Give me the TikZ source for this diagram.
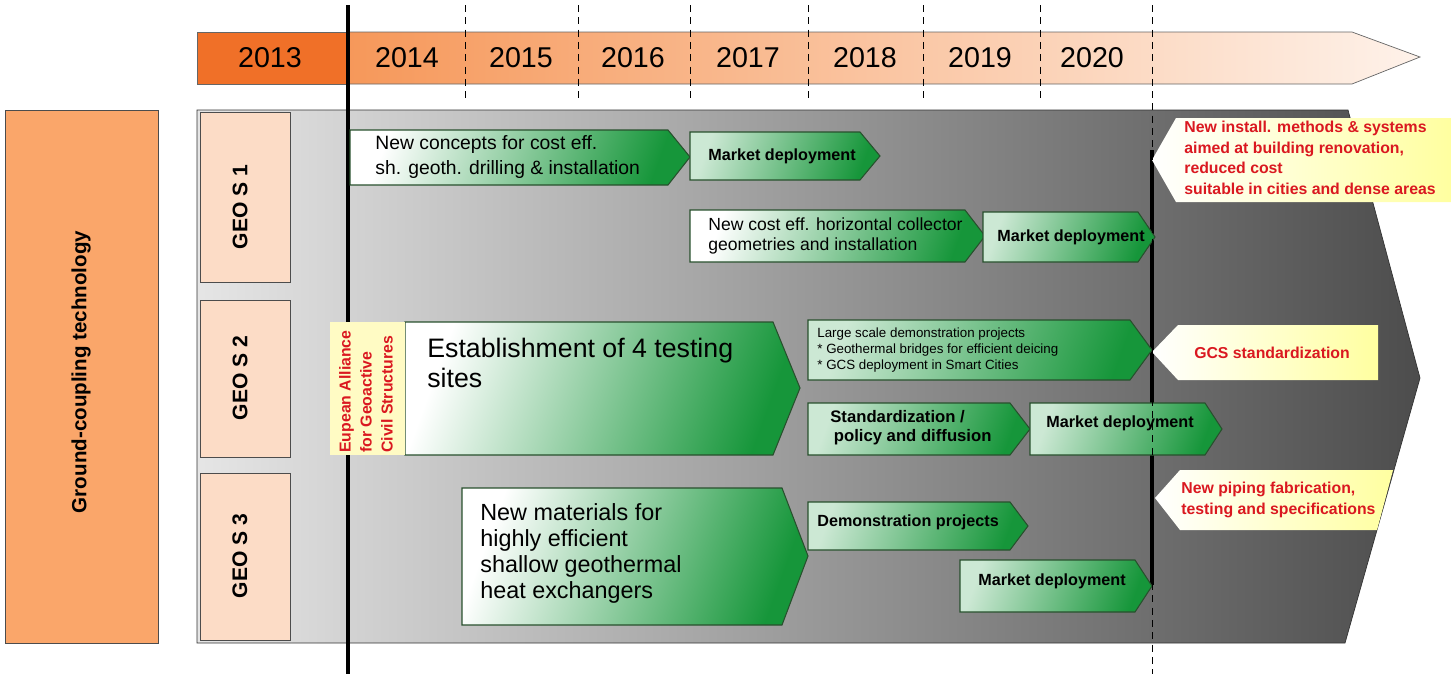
\documentclass[tikz,border=0pt]{standalone}
\usepackage{fontspec}
\setmainfont{Liberation Sans}
\usepackage{xcolor}
\usepackage{tikz}
\usetikzlibrary{calc}
\definecolor{yeardark}{RGB}{240,112,40}
\definecolor{yearmid}{RGB}{246,152,90}
\definecolor{yearlight}{RGB}{254,242,234}
\definecolor{techorange}{RGB}{250,166,106}
\definecolor{geopeach}{RGB}{252,220,198}
\definecolor{chevgreen}{RGB}{22,150,58}
\definecolor{chevline}{RGB}{40,80,45}
\definecolor{alertred}{RGB}{218,24,32}
\definecolor{noteyellow}{RGB}{255,255,160}
\definecolor{allianceyellow}{RGB}{255,251,196}
\tikzset{
  chev/.style = {draw = chevline, line width = .6pt, left color = white, right color = chevgreen, shading angle = 70},
  chevdeploy/.style = {chev, left color = chevgreen!22, right color = chevgreen, shading angle = 70},
  note/.style = {left color = white, right color = noteyellow},
  geobox/.style = {draw = black!70, fill = geopeach},
  yeartxt/.style = {font = \fontsize{16.3}{18}\selectfont},
  geotxt/.style = {rotate = 90, font = \fontsize{12}{14}\selectfont\bfseries},
  chevtxt/.style = {align = left, anchor = west, inner sep = 0pt},
  deploytxt/.style = {chevtxt, font = \fontsize{9.2}{11}\selectfont\bfseries},
  redtxt/.style = {text = alertred, font = \fontsize{9}{11.7}\selectfont\bfseries, align = left, inner sep = 0pt},
  yeardash/.style = {dash pattern = on 4pt off 3pt, line width = .5pt}
}
\begin{document}
\begin{tikzpicture}[x = .02cm, y = -.02cm]
\useasboundingbox (0,0) rectangle (1451,674);
% Year bar
\shade[draw = black!60, left color = yearmid, right color = yearlight] (348,32) -- (1352,32) -- (1420,57) -- (1352,84) -- (348,84) -- cycle;
\fill[yeardark, draw = black!60] (197,32) rectangle (348,84);
% Technology box
\draw[draw = black!70, fill = techorange] (5,110) rectangle (158,643);
\node[rotate = 90, font = \fontsize{11.7}{14}\selectfont\bfseries] (tech) at (81,372) {Ground-coupling technology};
% Grey roadmap panel
\shade[draw = black!80, left color = black!10, right color = black!70] (197,110) -- (1348,110) -- (1420,378) -- (1345,643) -- (197,643) -- cycle;
% Sub-topics
\draw[geobox] (200,112) rectangle (290,282);
\draw[geobox] (200,300) rectangle (290,457);
\draw[geobox] (200,473) rectangle (290,640);
\node[geotxt] (geo1) at (240,207) {GEO S 1};
\node[geotxt] (geo2) at (240,378) {GEO S 2};
\node[geotxt] (geo3) at (240,556) {GEO S 3};
% Milestone lines
\draw[line width = 2.8pt] (348,5) -- (348,674);
\draw[line width = 2.8pt] (1152,150) -- (1152,585);
% GEO S 1 arrows
\shade[chev] (350,130) -- (668,130) -- (690,157) -- (668,185) -- (350,185) -- cycle;
\shade[chevdeploy] (690,132) -- (860,132) -- (880,156) -- (860,180) -- (690,180) -- cycle;
\shade[chev] (690,210) -- (965,210) -- (985,236) -- (965,262) -- (690,262) -- cycle;
\shade[chevdeploy] (983,212) -- (1138,212) -- (1155,237) -- (1138,262) -- (983,262) -- cycle;
% GEO S 2 arrows
\shade[chev] (405,322) -- (773,322) -- (800,388) -- (773,455) -- (405,455) -- cycle;
\shade[chevdeploy] (808,320) -- (1130,320) -- (1152,350) -- (1130,380) -- (808,380) -- cycle;
\shade[chevdeploy] (808,403) -- (1010,403) -- (1030,429) -- (1010,455) -- (808,455) -- cycle;
\shade[chevdeploy] (1030,403) -- (1205,403) -- (1222,429) -- (1205,455) -- (1030,455) -- cycle;
\fill[allianceyellow] (330,322) rectangle (405,455);
% GEO S 3 arrows
\shade[chev] (462,488) -- (782,488) -- (808,556) -- (782,625) -- (462,625) -- cycle;
\shade[chevdeploy] (808,502) -- (1010,502) -- (1028,526) -- (1010,550) -- (808,550) -- cycle;
\shade[chevdeploy] (960,560) -- (1135,560) -- (1152,586) -- (1135,612) -- (960,612) -- cycle;
% Targets
\shade[note] (1152,160) -- (1176,118) -- (1451,118) -- (1451,202) -- (1176,202) -- cycle;
\shade[note] (1152,352) -- (1178,325) -- (1378,325) -- (1378,380) -- (1178,380) -- cycle;
\shade[note] (1155,498) -- (1180,470) -- (1393,470) -- (1377,530) -- (1180,530) -- cycle;
% Year grid
\foreach \xx in {465,578,690,808,923,1040}
  \draw[yeardash] (\xx,5) -- (\xx,100);
\draw[yeardash] (1152,5) -- (1152,674);
\foreach \yr/\xx in {2013/270,2014/407,2015/521,2016/633,2017/748,2018/865,2019/980,2020/1092}
  \node[yeartxt] (y\yr) at (\xx,58) {\yr};
% Arrow texts
\node[chevtxt, font = \fontsize{11}{14}\selectfont] (drill) at (375,157) {New concepts for cost eff.\\sh. geoth. drilling \& installation};
\node[deploytxt] (market1) at (708,156) {Market deployment};
\node[chevtxt, font = \fontsize{10}{11.5}\selectfont] (horiz) at (708,236) {New cost eff. horizontal collector\\geometries and installation};
\node[deploytxt] (market2) at (997,237) {Market deployment};
\node[chevtxt, anchor = north west, font = \fontsize{15.2}{17}\selectfont] (sites) at (427,338) {Establishment of 4 testing\\sites};
\node[chevtxt, font = \fontsize{7.6}{9.2}\selectfont] (demo1) at (817,350) {Large scale demonstration projects\\* Geothermal bridges for efficient deicing\\* GCS deployment in Smart Cities};
\node[deploytxt, font = \fontsize{9.5}{10.8}\selectfont\bfseries] (policy) at (830,428) {Standardization /\\\hspace{2pt}policy and diffusion};
\node[deploytxt] (market3) at (1046,423) {Market deployment};
\node[chevtxt, anchor = north west, font = \fontsize{13.3}{14.8}\selectfont] (materials) at (480,503) {New materials for\\highly efficient\\shallow geothermal\\heat exchangers};
\node[deploytxt] (demo2) at (817,522) {Demonstration projects};
\node[deploytxt] (market4) at (978,581) {Market deployment};
\node[rotate = 90, anchor = west, align = left, inner sep = 0pt, text = alertred, font = \fontsize{9}{12}\selectfont\bfseries] (alliance) at (366,453) {Eupean Alliance\\for Geoactive\\Civil Structures};
% Target texts
\node[redtxt, anchor = north west] (renov) at (1184,121) {New install. methods \& systems\\aimed at building renovation,\\reduced cost\\suitable in cities and dense areas};
\node[redtxt] (gcs) at (1272,353) {GCS standardization};
\node[redtxt, anchor = west, font = \fontsize{9}{12.2}\selectfont\bfseries] (piping) at (1181,500) {New piping fabrication,\\testing and specifications};
\end{tikzpicture}
\end{document}
